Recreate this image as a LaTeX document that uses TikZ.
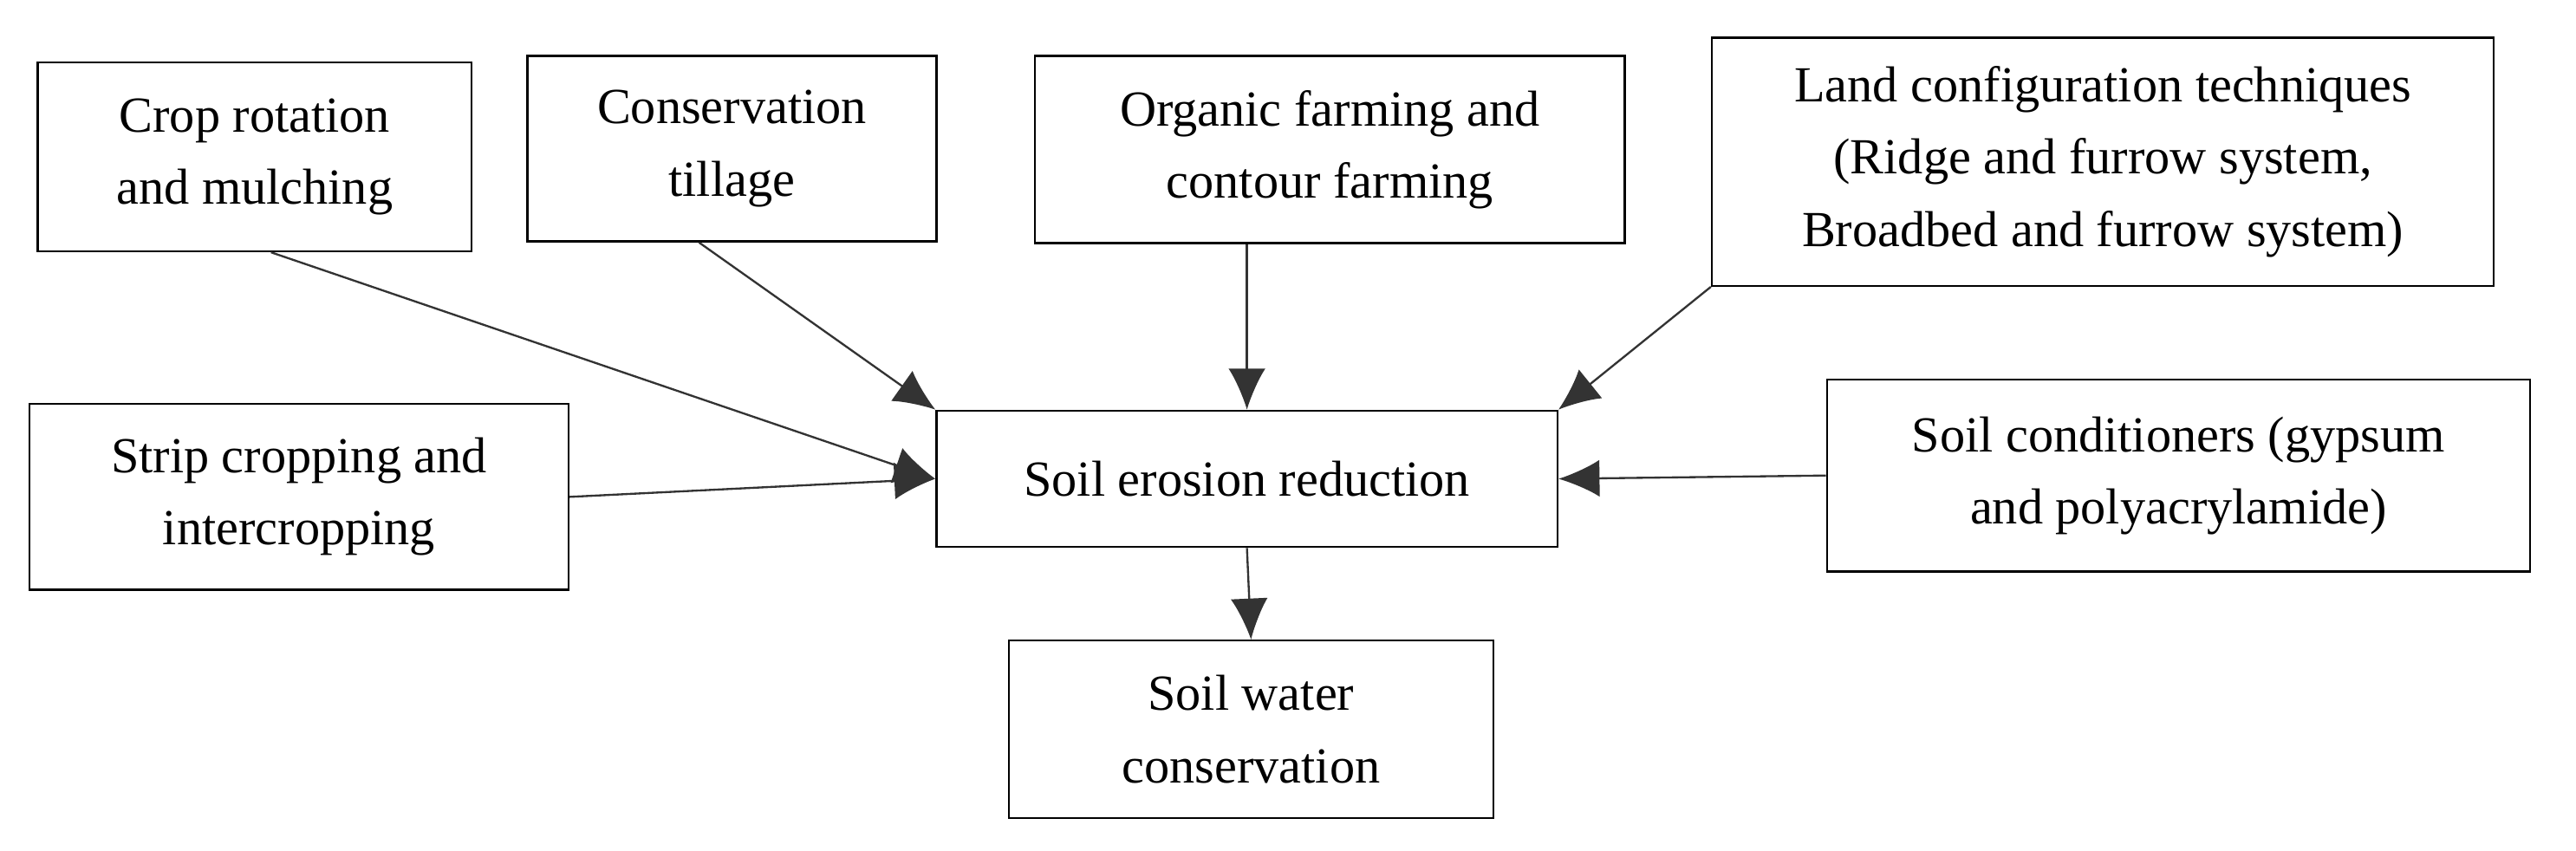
\documentclass[tikz,border=0pt]{standalone}
\usepackage{fontspec}
\setmainfont{Liberation Serif}
\usetikzlibrary{arrows.meta,calc}
\begin{document}
\begin{tikzpicture}[x=0.02cm,y=-0.02cm,
  box/.style={draw,line width=0.7pt,align=center,inner sep=0pt,font=\fontsize{17.5}{25}\selectfont},
  arr/.style={line width=0.7pt,draw=black!80,-{Latex[length=0.5cm,width=0.45cm]}}]
\useasboundingbox (0,0) rectangle (1568,518);
\node[box,minimum width=264*0.02cm,minimum height=115*0.02cm] (crop) at (155,95.5) {Crop rotation\\and mulching};
\node[box,minimum width=249*0.02cm,minimum height=113*0.02cm] (till) at (445.5,90.5) {Conservation\\tillage};
\node[box,minimum width=359*0.02cm,minimum height=114*0.02cm] (org) at (809.5,91) {Organic farming and\\contour farming};
\node[box,minimum width=476*0.02cm,minimum height=151*0.02cm] (land) at (1280,98.5) {Land configuration techniques\\(Ridge and furrow system,\\Broadbed and furrow system)};
\node[box,minimum width=328*0.02cm,minimum height=113*0.02cm] (strip) at (182,302.5) {Strip cropping and\\intercropping};
\node[box,minimum width=378*0.02cm,minimum height=83*0.02cm] (ero) at (759,291.5) {Soil erosion reduction};
\node[box,minimum width=428*0.02cm,minimum height=117*0.02cm] (cond) at (1326,289.5) {Soil conditioners (gypsum\\and polyacrylamide)};
\node[box,minimum width=295*0.02cm,minimum height=108*0.02cm] (water) at (761.5,444) {Soil water\\conservation};
\draw[arr] ($(crop.south)+(10,0)$) -- (ero.west);
\draw[arr] ($(till.south)+(-20,0)$) -- (ero.north west);
\draw[arr] (ero.north |- org.south) -- (ero.north);
\draw[arr] (land.south west) -- (ero.north east);
\draw[arr] (strip.east) -- (ero.west);
\draw[arr] (cond.west) -- (ero.east);
\draw[arr] (ero.south) -- (water.north);
\end{tikzpicture}
\end{document}
